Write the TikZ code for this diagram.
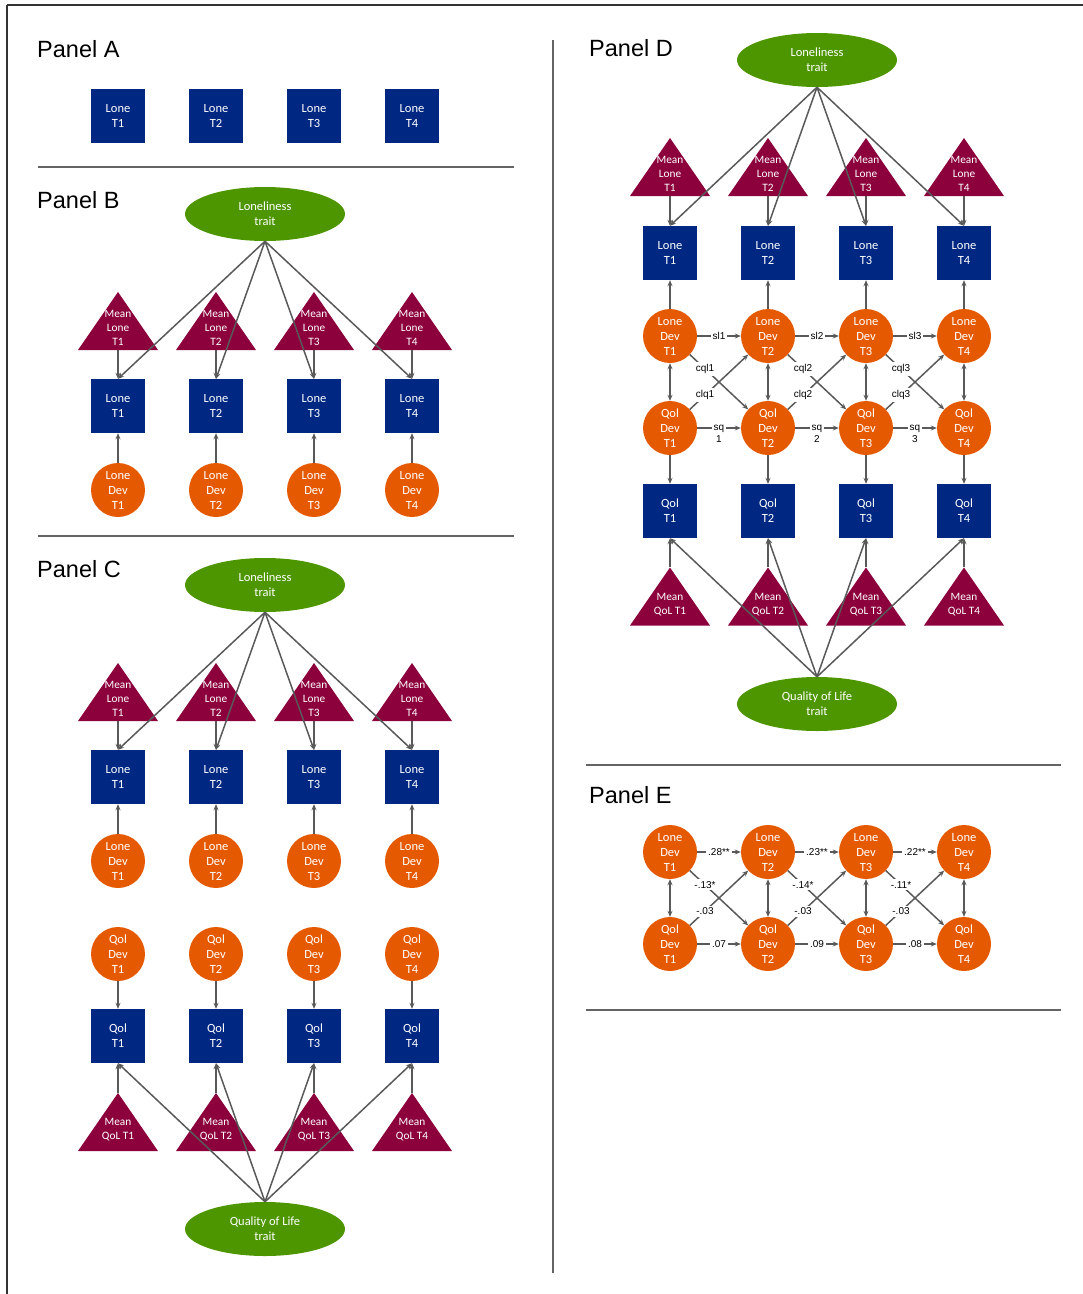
\documentclass[tikz,border=0pt]{standalone}
\usepackage{fontspec}
\setmainfont{Liberation Sans}
\newfontfamily\calfont{Carlito}
\usetikzlibrary{shapes.geometric,arrows.meta}

\definecolor{obsblue}{RGB}{0,40,130}
\definecolor{devorange}{RGB}{229,90,0}
\definecolor{traitgreen}{RGB}{78,150,0}
\definecolor{meanred}{RGB}{140,0,60}
\definecolor{linegray}{RGB}{89,89,89}
\definecolor{sepgray}{RGB}{100,100,100}

\begin{document}
\begin{tikzpicture}[x=1pt,y=-1pt,
  >={Stealth[length=6pt,width=5pt]},
  nodetext/.style={text=white, align=center, text depth=0pt, font=\calfont\fontsize{12.5}{15}\selectfont},
  obs/.style={nodetext, rectangle, fill=obsblue, minimum width=54pt, minimum height=54pt, inner sep=0pt},
  dev/.style={nodetext, circle, fill=devorange, minimum size=54pt, inner sep=0pt},
  trait/.style={nodetext, ellipse, fill=traitgreen, minimum width=160pt, minimum height=54pt, inner sep=0pt},
  meantri/.style={rectangle, minimum width=80pt, minimum height=58pt, inner sep=0pt,
    path picture={\fill[meanred] (path picture bounding box.north) -- (path picture bounding box.south east) -- (path picture bounding box.south west) -- cycle;}},
  tritext/.style={text=white, align=center, inner sep=0pt, text depth=0pt, yshift=-7pt, font=\calfont\fontsize{11.3}{14}\selectfont},
  conn/.style={draw=linegray, line width=1.5pt, ->},
  dbl/.style={draw=linegray, line width=1.5pt, <->},
  lab/.style={fill=white, inner sep=2pt, text=black, align=center, font=\fontsize{10}{12}\selectfont},
  panel/.style={anchor=base west, inner sep=0pt, font=\fontsize{23.5}{28}\selectfont},
  sep/.style={draw=sepgray, line width=2pt}
]
\useasboundingbox (0,0) rectangle (1083,1294);

% outer frame
\draw[line width=2pt, black!80] (7,5) -- (1083,5);
\draw[line width=2pt, black!80] (7,5) -- (7,1294);

% panel separators
\draw[sep] (38,167) -- (514,167);
\draw[sep] (38,536) -- (514,536);
\draw[sep] (553,40) -- (553,1273);
\draw[sep] (586,765) -- (1061,765);
\draw[sep] (586,1010) -- (1061,1010);

% panel titles
\node[panel] (tA) at (37,57) {Panel A};
\node[panel] (tB) at (37,208) {Panel B};
\node[panel] (tC) at (37,577) {Panel C};
\node[panel] (tD) at (589,56) {Panel D};
\node[panel] (tE) at (589,803) {Panel E};

% ---------- Panel A: observed loneliness ----------
\foreach \i/\x in {1/118,2/216,3/314,4/412}
  \node[obs] (aL\i) at (\x,116) {Lone\\T\i};

% ---------- Panel B: trait, means and deviations ----------
\node[trait] (bLT) at (265,214) {Loneliness\\trait};
\foreach \i/\x in {1/118,2/216,3/314,4/412}{
  \node[meantri, label={[tritext]center:{Mean\\Lone\\T\i}}] (bM\i) at (\x,321) {};
  \node[obs] (bL\i) at (\x,406) {Lone\\T\i};
  \node[dev] (bD\i) at (\x,490) {Lone\\Dev\\T\i};
}
\foreach \i in {1,2,3,4}{
  \draw[conn] (bM\i.south) -- (bL\i.north);
  \draw[conn] (bLT.south) -- (bL\i.north);
  \draw[conn] (bD\i) -- (bL\i);
}

% ---------- Panel C: two separate decompositions ----------
\node[trait] (cLT) at (265,585) {Loneliness\\trait};
\node[trait] (cQT) at (265,1229) {Quality of Life\\trait};
\foreach \i/\x in {1/118,2/216,3/314,4/412}{
  \node[meantri, label={[tritext]center:{Mean\\Lone\\T\i}}] (cM\i) at (\x,692) {};
  \node[obs] (cL\i) at (\x,777) {Lone\\T\i};
  \node[dev] (cD\i) at (\x,861) {Lone\\Dev\\T\i};
  \node[dev] (cQD\i) at (\x,954) {Qol\\Dev\\T\i};
  \node[obs] (cQ\i) at (\x,1036) {Qol\\T\i};
  \node[meantri, label={[tritext]center:{Mean\\QoL T\i}}] (cQM\i) at (\x,1122) {};
}
\foreach \i in {1,2,3,4}{
  \draw[conn] (cM\i.south) -- (cL\i.north);
  \draw[conn] (cLT.south) -- (cL\i.north);
  \draw[conn] (cD\i) -- (cL\i);
  \draw[conn] (cQD\i) -- (cQ\i);
  \draw[conn] (cQM\i.north) -- (cQ\i.south);
  \draw[conn] (cQT.north) -- (cQ\i.south);
}

% ---------- Panel D: cross-lagged deviations ----------
\node[trait] (dLT) at (817,60) {Loneliness\\trait};
\node[trait] (dQT) at (817,704) {Quality of Life\\trait};
\foreach \i/\x in {1/670,2/768,3/866,4/964}{
  \node[meantri, label={[tritext]center:{Mean\\Lone\\T\i}}] (dM\i) at (\x,167) {};
  \node[obs] (dL\i) at (\x,253) {Lone\\T\i};
  \node[dev] (dD\i) at (\x,336) {Lone\\Dev\\T\i};
  \node[dev] (dQD\i) at (\x,428) {Qol\\Dev\\T\i};
  \node[obs] (dQ\i) at (\x,511) {Qol\\T\i};
  \node[meantri, label={[tritext]center:{Mean\\QoL T\i}}] (dQM\i) at (\x,596.5) {};
}
\foreach \i in {1,2,3,4}{
  \draw[conn] (dM\i.south) -- (dL\i.north);
  \draw[conn] (dLT.south) -- (dL\i.north);
  \draw[conn] (dD\i) -- (dL\i);
  \draw[dbl] (dD\i) -- (dQD\i);
  \draw[conn] (dQD\i) -- (dQ\i);
  \draw[conn] (dQM\i.north) -- (dQ\i.south);
  \draw[conn] (dQT.north) -- (dQ\i.south);
}
\foreach \i/\j in {1/2,2/3,3/4}{
  \draw[conn] (dD\i) -- node[lab] {sl\i} (dD\j);
  \draw[conn] (dQD\i) -- node[lab, yshift=-6pt] {sq\\\i} (dQD\j);
  \draw[conn] (dD\i) -- node[lab, pos=0.26] {cql\i} (dQD\j);
  \draw[conn] (dQD\i) -- node[lab, pos=0.26] {clq\i} (dD\j);
}

% ---------- Panel E: estimated cross-lagged paths ----------
\foreach \i/\x in {1/670,2/768,3/866,4/964}{
  \node[dev] (eD\i) at (\x,852) {Lone\\Dev\\T\i};
  \node[dev] (eQD\i) at (\x,944) {Qol\\Dev\\T\i};
  \draw[dbl] (eD\i) -- (eQD\i);
}
\foreach \i/\j/\sl/\sq/\cql/\clq in {1/2/.28**/.07/-.13*/-.03, 2/3/.23**/.09/-.14*/-.03, 3/4/.22**/.08/-.11*/-.03}{
  \draw[conn] (eD\i) -- node[lab] {\sl} (eD\j);
  \draw[conn] (eQD\i) -- node[lab] {\sq} (eQD\j);
  \draw[conn] (eD\i) -- node[lab, pos=0.26] {\cql} (eQD\j);
  \draw[conn] (eQD\i) -- node[lab, pos=0.26] {\clq} (eD\j);
}
\end{tikzpicture}
\end{document}
